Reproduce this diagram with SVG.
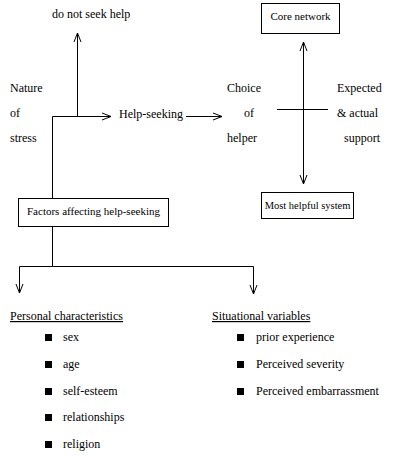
<svg xmlns="http://www.w3.org/2000/svg" width="400" height="466" viewBox="0 0 400 466">
<style>
text{font-family:'Liberation Serif','DejaVu Serif',serif;font-size:12px;fill:#000}
.bt{font-size:11px}
.ln{stroke:#000;stroke-width:1;fill:none}
.box{stroke:#000;stroke-width:1;fill:#fff}
.bul{fill:#000}
</style>
<defs>
<marker id="v" viewBox="0 0 10 10" refX="10" refY="5" markerWidth="10" markerHeight="10" markerUnits="userSpaceOnUse" orient="auto-start-reverse">
<polyline points="1,1.5 10,5 1,8.5" fill="none" stroke="#000" stroke-width="1"/>
</marker>
</defs>
<rect width="400" height="466" fill="#fff"/>
<g id="connectors">
<line class="ln" x1="77.5" y1="116.5" x2="77.5" y2="33" marker-end="url(#v)"/>
<polyline class="ln" points="52.5,198 52.5,116.5 111,116.5" marker-end="url(#v)"/>
<line class="ln" x1="186" y1="116.5" x2="222" y2="116.5" marker-end="url(#v)"/>
<line class="ln" x1="303.5" y1="42" x2="303.5" y2="184" marker-start="url(#v)" marker-end="url(#v)"/>
<line class="ln" x1="277" y1="109.5" x2="328" y2="109.5"/>
<polyline class="ln" points="52.5,226 52.5,266.5 19.5,266.5 19.5,293" marker-end="url(#v)"/>
<polyline class="ln" points="52.5,266.5 253.5,266.5 253.5,294" marker-end="url(#v)"/>
</g>
<g font-family="Liberation Serif, DejaVu Serif, serif" font-size="12">
<g id="n-donot"><text x="52" y="18">do not seek help</text></g>
<g id="n-nature"><text x="10" y="92">Nature</text><text x="10" y="117">of</text><text x="10" y="142">stress</text></g>
<g id="n-helpseeking"><text x="119" y="118">Help-seeking</text></g>
<g id="n-choice"><text x="227" y="92">Choice</text><text x="244" y="117">of</text><text x="227" y="142">helper</text></g>
<g id="n-expected"><text x="337" y="92">Expected</text><text x="337" y="117">&amp; actual</text><text x="344" y="142">support</text></g>
<g id="n-core"><rect class="box" x="261.5" y="3.5" width="78" height="30"/><text class="bt" x="300.5" y="20" text-anchor="middle">Core network</text></g>
<g id="n-most"><rect class="box" x="261.5" y="192.5" width="92" height="26"/><text x="307.5" y="209" text-anchor="middle" font-size="10.5" style="font-size:10.5px">Most helpful system</text></g>
<g id="n-factors"><rect class="box" x="18.5" y="198.5" width="150" height="28"/><text class="bt" x="93.5" y="215" text-anchor="middle">Factors affecting help-seeking</text></g>
<g id="n-personal">
<text x="10" y="320" text-decoration="underline">Personal characteristics</text>
<rect class="bul" x="45" y="334" width="7" height="7"/><text x="63" y="341">sex</text>
<rect class="bul" x="45" y="361" width="7" height="7"/><text x="63" y="368">age</text>
<rect class="bul" x="45" y="388" width="7" height="7"/><text x="63" y="395">self-esteem</text>
<rect class="bul" x="45" y="414" width="7" height="7"/><text x="63" y="421">relationships</text>
<rect class="bul" x="45" y="441" width="7" height="7"/><text x="63" y="448">religion</text>
</g>
<g id="n-situational">
<text x="212" y="320" text-decoration="underline">Situational variables</text>
<rect class="bul" x="237" y="334" width="7" height="7"/><text x="256" y="341">prior experience</text>
<rect class="bul" x="237" y="361" width="7" height="7"/><text x="256" y="368">Perceived severity</text>
<rect class="bul" x="237" y="388" width="7" height="7"/><text x="256" y="395">Perceived embarrassment</text>
</g>
</g>
</svg>
